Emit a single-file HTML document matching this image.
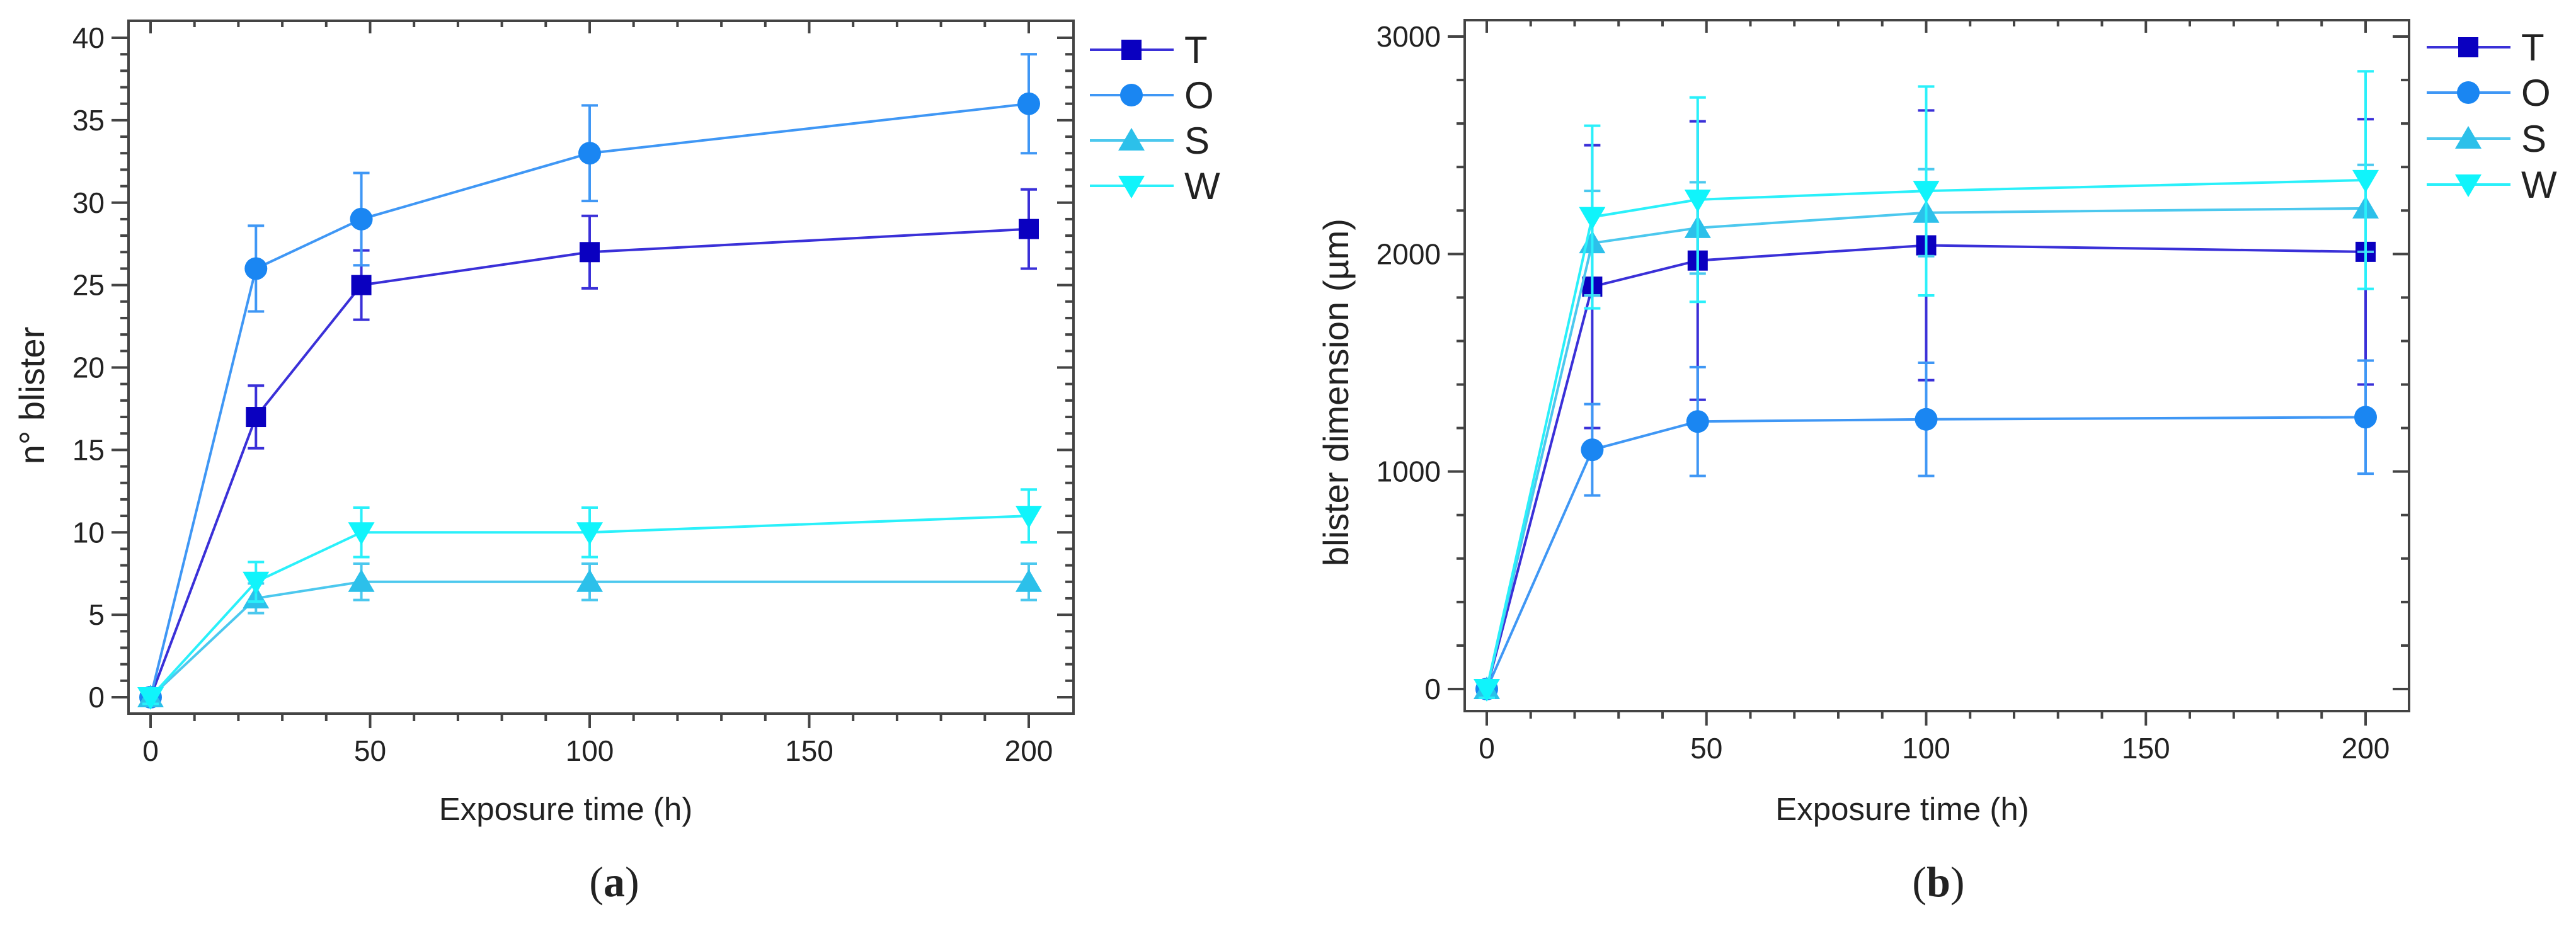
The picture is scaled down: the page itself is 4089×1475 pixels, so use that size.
<!DOCTYPE html>
<html><head><meta charset="utf-8">
<style>
html,body{margin:0;padding:0;background:#fff;}
svg{display:block;}
text{font-family:"Liberation Sans",Arial,sans-serif;fill:#222;}
</style></head>
<body>
<svg id="fig" width="4089" height="1475" viewBox="0 0 4089 1475" xmlns="http://www.w3.org/2000/svg">
<rect width="4089" height="1475" fill="#fff"/>
</svg>
<script>
// shared x categories (exposure time, h)
const xValues = [0, 24, 48, 100, 200];
const xTicks = [0, 50, 100, 150, 200];
const seriesNames = ["T", "O", "S", "W"];

// panel (a): number of blisters
const aT = [0, 17, 25, 27, 28.4];
const aO = [0, 26, 29, 33, 36];
const aS = [0, 6, 7, 7, 7];
const aW = [0, 7, 10, 10, 11];
const aTerr = [0.4, 1.9, 2.1, 2.2, 2.4];
const aOerr = [0.4, 2.6, 2.8, 2.9, 3.0];
const aSerr = [0.4, 0.9, 1.1, 1.1, 1.1];
const aWerr = [0.4, 1.2, 1.5, 1.5, 1.6];
const aYTicks = [0, 5, 10, 15, 20, 25, 30, 35, 40];

// panel (b): blister dimension (um)
const bT = [0, 1850, 1970, 2040, 2010];
const bO = [0, 1100, 1230, 1240, 1250];
const bS = [0, 2050, 2120, 2190, 2210];
const bW = [0, 2170, 2250, 2290, 2340];
const bTerr = [40, 650, 640, 620, 610];
const bOerr = [40, 210, 250, 260, 260];
const bSerr = [40, 240, 210, 200, 200];
const bWerr = [40, 420, 470, 480, 500];
const bYTicks = [0, 1000, 2000, 3000];

const colors = {T:{line:"#3a30d8",mark:"#0a00c0"},O:{line:"#3f97f5",mark:"#1a86f2"},S:{line:"#4cc8ee",mark:"#2cc0ea"},W:{line:"#2af0fa",mark:"#10f4fb"}};
const NS = "http://www.w3.org/2000/svg";
const svg = document.getElementById("fig");
function mk(tag, attrs, parent){const e=document.createElementNS(NS,tag);for(const k in attrs)e.setAttribute(k,attrs[k]);(parent||svg).appendChild(e);return e;}

function marker(g, name, cx, cy){
  const c = colors[name].mark; let e;
  if(name==="T") e = mk("rect",{x:cx-16,y:cy-16,width:32,height:32,fill:c},g);
  else if(name==="O") e = mk("circle",{cx:cx,cy:cy,r:18,fill:c},g);
  else if(name==="S") e = mk("polygon",{points:`${cx},${cy-20} ${cx+21},${cy+16} ${cx-21},${cy+16}`,fill:c},g);
  else e = mk("polygon",{points:`${cx},${cy+20} ${cx+21},${cy-16} ${cx-21},${cy-16}`,fill:c},g);
  return e;
}

function panel(p){
  const g = mk("g",{});
  
  
  const X = v => p.x0 + (v - 0) * (p.x200 - p.x0) / 200;
  const Y = v => p.y0 + v * (p.yTop - p.y0) / p.yMax;
  // ticks
  const axes = mk("g",{stroke:"#444","stroke-width":4},g);
  
  
  for(let v=0; v<=200; v+=10){
    const maj = v%50===0, x = X(v);
    mk("line",{x1:x,y1:p.bottom,x2:x,y2:p.bottom+(maj?23:12)},axes);
    mk("line",{x1:x,y1:p.top,x2:x,y2:p.top+(maj?20:10)},axes);
  }
  for(let v=0; v<=p.yMax+1e-9; v+=p.yMinor){
    const maj = Math.abs(v/p.yMajor-Math.round(v/p.yMajor))<1e-6, y = Y(v);
    mk("line",{x1:p.left,y1:y,x2:p.left-(maj?27:13),y2:y},axes);
    mk("line",{x1:p.right,y1:y,x2:p.right-(maj?26:13),y2:y},axes);
  }
  const frame = mk("rect",{x:p.left,y:p.top,width:p.right-p.left,height:p.bottom-p.top,fill:"none",stroke:"#444","stroke-width":4},g);
  
  
  // tick labels
  xTicks.forEach(v=>{
    const t = mk("text",{x:X(v),y:p.bottom+75,"font-size":46,"text-anchor":"middle"},g);
    t.textContent = v;
    
    
  });
  p.yTicks.forEach(v=>{
    const t = mk("text",{x:p.left-38,y:Y(v)+16,"font-size":46,"text-anchor":"end"},g);
    t.textContent = v;
    
    
  });
  // axis titles
  const xt = mk("text",{x:(X(0)+X(200))/2+ (p.id==="panel-a"? -38:-38),y:1302,"font-size":51,"text-anchor":"middle"},g);
  xt.textContent = "Exposure time (h)";
  
  
  const yt = mk("text",{x:0,y:0,"font-size":56,"text-anchor":"middle",transform:`translate(${p.ytx},${p.yty}) rotate(-90)`},g);
  yt.textContent = p.ytitle;
  
  
  // caption
  const cap = mk("text",{x:p.capx,y:1423,"font-size":68,"text-anchor":"middle",style:"font-family:'Liberation Serif',serif"},g);
  cap.innerHTML = `(<tspan font-weight="bold">${p.cap}</tspan>)`;
  
  
  // series
  seriesNames.forEach((name,si)=>{
    const vals = p.data[si], errs = p.errs[si], col = colors[name];
    const sg = mk("g",{},g);
    
    
    vals.forEach((v,i)=>{
      const x = X(xValues[i]), e = errs[i];
      const eb = mk("path",{d:`M${x},${Y(v-e)}V${Y(v+e)}M${x-13},${Y(v+e)}h26M${x-13},${Y(v-e)}h26`,stroke:col.line,"stroke-width":4,fill:"none"},sg);
      
      
    });
    const pts = vals.map((v,i)=>`${X(xValues[i])},${Y(v)}`).join(" ");
    const pl = mk("polyline",{points:pts,fill:"none",stroke:col.line,"stroke-width":4},sg);
    
    
    vals.forEach((v,i)=>{
      const m = marker(sg,name,X(xValues[i]),Y(v));
      
      
    });
    // legend
    const lg = mk("g",{},g);
    
    
    const ly = p.legY[si];
    mk("line",{x1:p.legX,y1:ly,x2:p.legX+133,y2:ly,stroke:col.line,"stroke-width":4},lg);
    marker(lg,name,p.legX+66,ly);
    const lt = mk("text",{x:p.legX+150,y:ly+21,"font-size":60},lg);
    lt.textContent = name;
  });
}

panel({id:"panel-a",left:204,right:1704,top:33,bottom:1133,x0:239,x200:1633,y0:1107,yTop:60,yMax:40,yMinor:1,yMajor:5,yTicks:aYTicks,
  data:[aT,aO,aS,aW],errs:[aTerr,aOerr,aSerr,aWerr],legX:1730,legY:[79,151,223,295],
  ytitle:"n° blister",ytx:70,yty:628,capx:975,cap:"a"});
panel({id:"panel-b",left:2325,right:3824,top:32,bottom:1129,x0:2360,x200:3755,y0:1094,yTop:58,yMax:3000,yMinor:200,yMajor:1000,yTicks:bYTicks,
  data:[bT,bO,bS,bW],errs:[bTerr,bOerr,bSerr,bWerr],legX:3852,legY:[75,147,220,293],
  ytitle:"blister dimension (µm)",ytx:2140,yty:623,capx:3077,cap:"b"});
</script>
</body></html>
